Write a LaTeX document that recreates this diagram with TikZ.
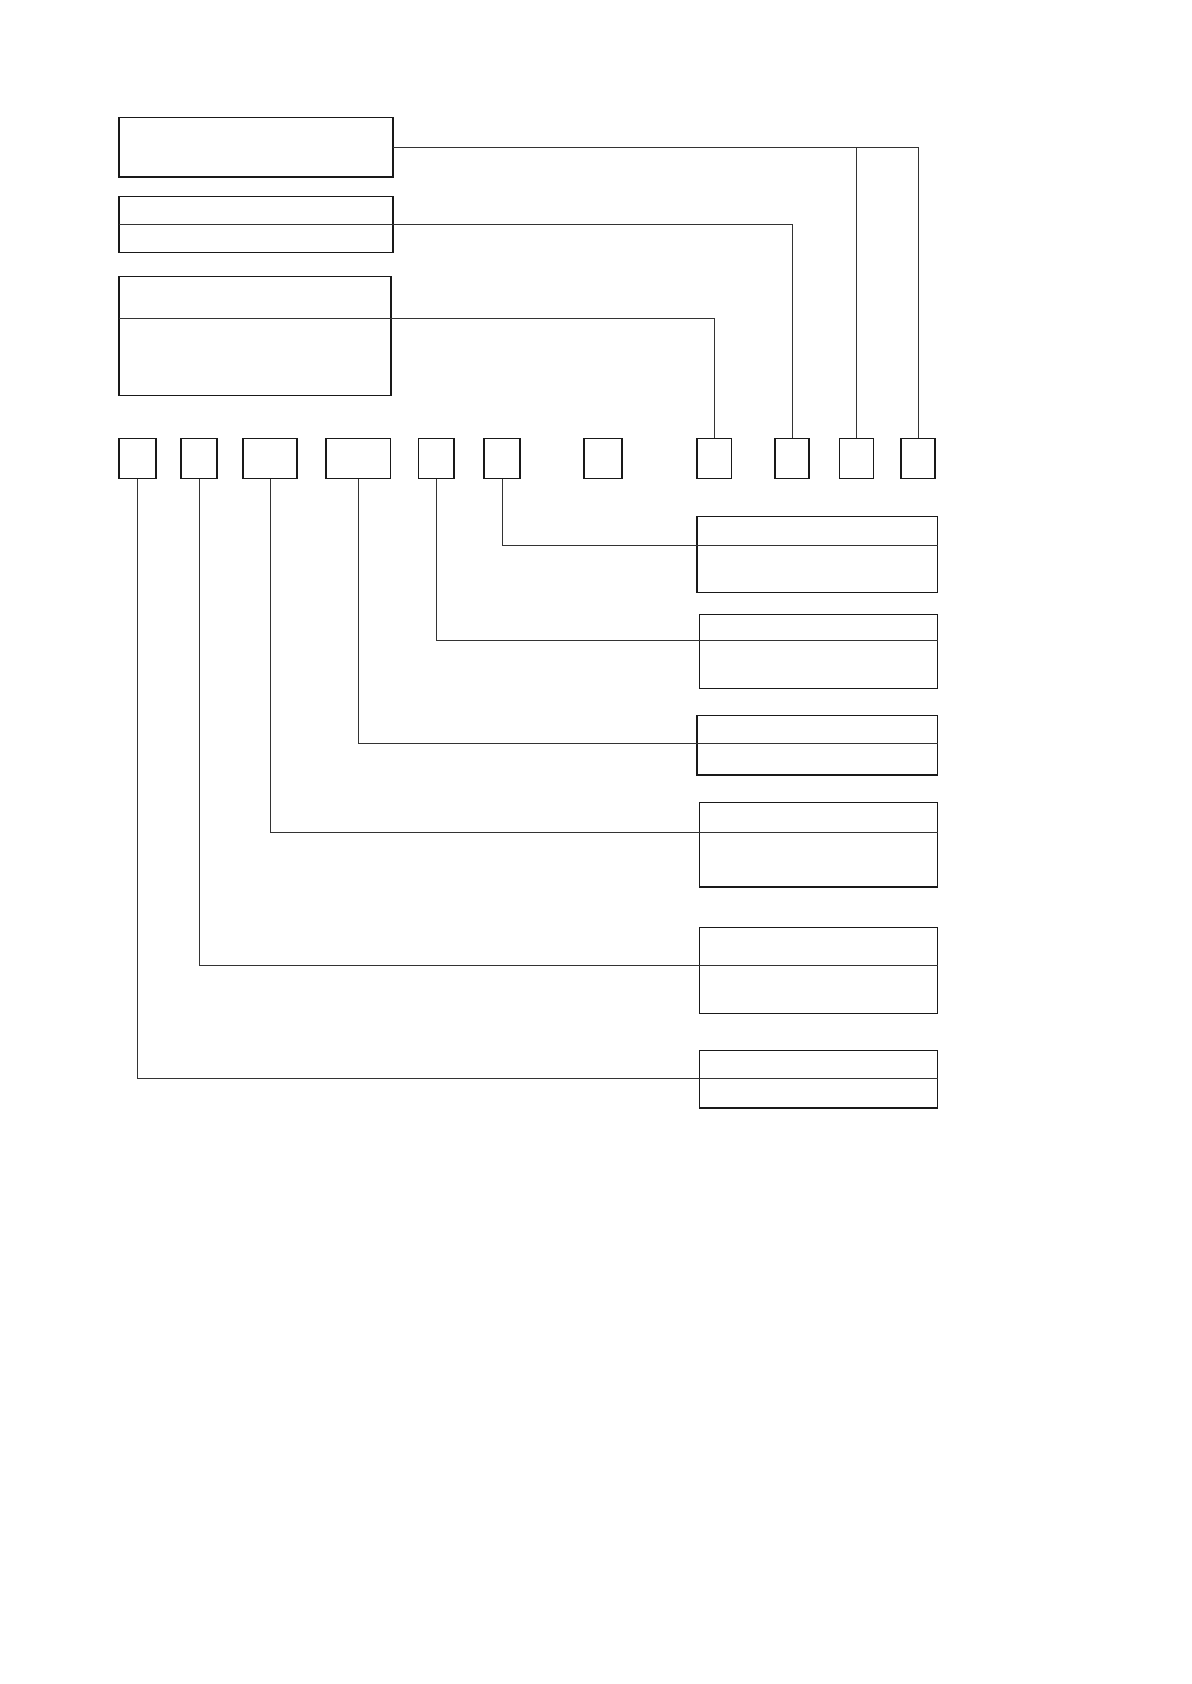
\documentclass[tikz,border=0pt]{standalone}
\begin{document}
\begin{tikzpicture}[x=0.5pt,y=-0.5pt,
  bx/.style={draw=black!90, line width=0.6pt, inner sep=0pt, outer sep=0pt},
  conn/.style={draw=black!80, line width=0.5pt}]
\useasboundingbox (0,0) rectangle (1191,1684);
% left boxes
\node[bx, minimum width=137pt, minimum height=29.75pt] (A) at (256,147.25) {};
\node[bx, minimum width=137pt, minimum height=28pt] (B) at (256,224.5) {};
\node[bx, minimum width=136pt, minimum height=59.5pt] (C) at (255,336) {};
% small boxes row
\node[bx, minimum width=18.5pt, minimum height=20pt] (s1) at (137.5,458.5) {};
\node[bx, minimum width=18pt, minimum height=20pt] (s2) at (199,458.5) {};
\node[bx, minimum width=27pt, minimum height=20pt] (s3) at (270,458.5) {};
\node[bx, minimum width=32.25pt, minimum height=20pt] (s4) at (358.25,458.5) {};
\node[bx, minimum width=17.75pt, minimum height=20pt] (s5) at (436.25,458.5) {};
\node[bx, minimum width=18pt, minimum height=20pt] (s6) at (502,458.5) {};
\node[bx, minimum width=19pt, minimum height=20pt] (s7) at (603,458.5) {};
\node[bx, minimum width=17.25pt, minimum height=20pt] (s8) at (714.25,458.5) {};
\node[bx, minimum width=17pt, minimum height=20pt] (s9) at (792,458.5) {};
\node[bx, minimum width=17pt, minimum height=20pt] (s10) at (856.5,458.5) {};
\node[bx, minimum width=17pt, minimum height=20pt] (s11) at (918,458.5) {};
% right boxes
\node[bx, minimum width=120.25pt, minimum height=37.95pt] (R1) at (817.25,554.45) {};
\node[bx, minimum width=119pt, minimum height=37.05pt] (R2) at (818.5,651.35) {};
\node[bx, minimum width=120.25pt, minimum height=29.9pt] (R3) at (817.25,745.1) {};
\node[bx, minimum width=119pt, minimum height=42.4pt] (R4) at (818.5,844.6) {};
\node[bx, minimum width=119pt, minimum height=43.05pt] (R5) at (818.5,970.75) {};
\node[bx, minimum width=119pt, minimum height=28.8pt] (R6) at (818.5,1079.2) {};
% divider coordinates
\coordinate (cd) at (119,318.4);
\coordinate (d1) at (697,545.4);
\coordinate (d2) at (699.5,640.6);
\coordinate (d3) at (697,743.3);
\coordinate (d4) at (699.5,832.6);
\coordinate (d5) at (699.5,965.2);
\coordinate (d6) at (699.5,1078.6);
% top connectors
\draw[conn] (A.east) -| (s11.north);
\draw[conn] (s10.north) |- (A.east);
\draw[conn] (B.west) -- (B.east) -| (s9.north);
\draw[conn] (cd) -- (cd -| C.east) -| (s8.north);
% bottom connectors
\draw[conn] (s6.south) |- (d1) -- (d1 -| R1.east);
\draw[conn] (s5.south) |- (d2) -- (d2 -| R2.east);
\draw[conn] (s4.south) |- (d3) -- (d3 -| R3.east);
\draw[conn] (s3.south) |- (d4) -- (d4 -| R4.east);
\draw[conn] (s2.south) |- (d5) -- (d5 -| R5.east);
\draw[conn] (s1.south) |- (d6) -- (d6 -| R6.east);
\end{tikzpicture}
\end{document}
